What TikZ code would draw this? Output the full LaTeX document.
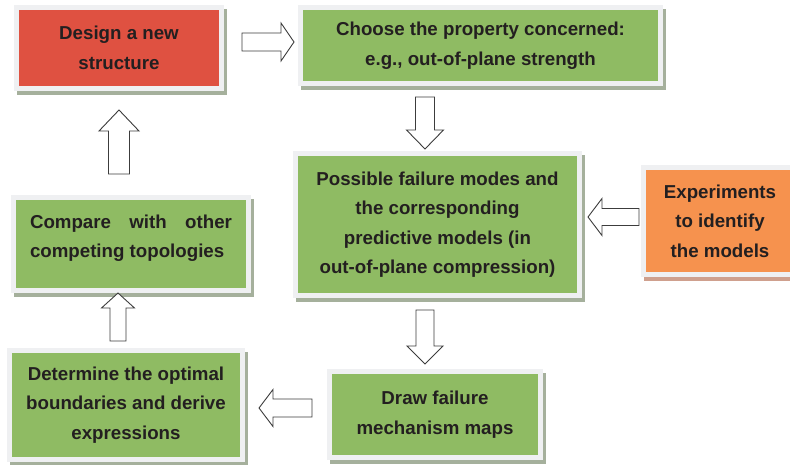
\documentclass[tikz,border=0pt]{standalone}
\usepackage{fontspec}
\setmainfont{Liberation Sans}
\usetikzlibrary{backgrounds}
\definecolor{redbox}{HTML}{DF5141}
\definecolor{greenbox}{HTML}{8FBB63}
\definecolor{orangebox}{HTML}{F6924E}
\definecolor{framecol}{HTML}{EFF0F2}
\definecolor{shadowg}{HTML}{A5B09C}
\definecolor{shadowo}{HTML}{CFA08E}
\definecolor{txt}{HTML}{231F20}
\definecolor{arrowcol}{HTML}{3C3C3C}
% #1 name, #2 x tip, #3 y tip, #4 angle, #5 length, #6 head length, #7 shaft width, #8 head width
\newcommand\blockarr[8]{%
  \coordinate (#1) at (#2,#3);
  \draw[blk, shift={(#1)}, rotate=#4] (0,0) -- (-#6,#8/2) -- (-#6,#7/2) -- (-#5,#7/2)
    -- (-#5,-#7/2) -- (-#6,-#7/2) -- (-#6,-#8/2) -- cycle;}
\begin{document}
\begin{tikzpicture}[x=1pt,y=1pt,
  box/.style={draw=framecol, line width=5pt, outer sep=0pt, inner sep=0pt,
    align=center, text=txt, font=\fontsize{18.7pt}{29.5pt}\selectfont\bfseries},
  boxtext/.style={inner sep=0pt, text=txt, font=\fontsize{18.7pt}{29.5pt}\selectfont\bfseries},
  blk/.style={draw=arrowcol, line width=0.9pt, fill=white, line join=miter}]
\useasboundingbox (0,0) rectangle (790,464);
\node[box, fill=redbox, minimum width=205pt, minimum height=81pt] (design) at (119,416)
  {Design a new\\structure};
\node[box, fill=greenbox, minimum width=360pt, minimum height=76pt] (choose) at (480.5,418.5)
  {Choose the property concerned:\\e.g., out-of-plane strength};
\node[box, fill=greenbox, minimum width=284pt, minimum height=142pt] (modes) at (437.5,239.5)
  {Possible failure modes and\\the corresponding\\predictive models (in\\out-of-plane compression)};
\node[box, fill=orangebox, minimum width=153pt, minimum height=107pt] (exper) at (720,243)
  {Experiments\\to identify\\the models};
\node[box, fill=greenbox, minimum width=211pt, minimum height=86pt] (drawmaps) at (435,49.5)
  {Draw failure\\mechanism maps};
\node[box, fill=greenbox, minimum width=233pt, minimum height=109pt] (determine) at (126,59)
  {Determine the optimal\\boundaries and derive\\expressions};
\node[box, fill=greenbox, minimum width=235pt, minimum height=93pt] (compare) at (131,220) {};
\node[boxtext, align=left] (comparetext) at ([yshift=6pt]compare.center)
  {\makebox[202pt][s]{Compare with other}\\competing topologies};
\begin{scope}[on background layer]
  \foreach \n in {design,choose,modes,drawmaps,determine,compare}
    \fill[shadowg] ([shift={(0.5,-6.5)}]\n.south west) rectangle ([shift={(5.5,-1.5)}]\n.north east);
  \fill[shadowo] ([shift={(0.5,-6.5)}]exper.south west) rectangle ([shift={(5.5,-1.5)}]exper.north east);
\end{scope}
\blockarr{arrA}{294}{422}{0}{52}{13}{18}{38}
\blockarr{arrB}{425}{315}{-90}{52}{19}{19}{37}
\blockarr{arrC}{425}{100}{-90}{54}{18}{18}{36}
\blockarr{arrD}{588}{247}{180}{51}{14}{17}{37}
\blockarr{arrE}{259}{56}{180}{53}{14}{18}{37}
\blockarr{arrF}{118}{171}{90}{48}{15}{16}{33}
\blockarr{arrG}{119}{354}{90}{64}{21}{21}{40}
\end{tikzpicture}
\end{document}
